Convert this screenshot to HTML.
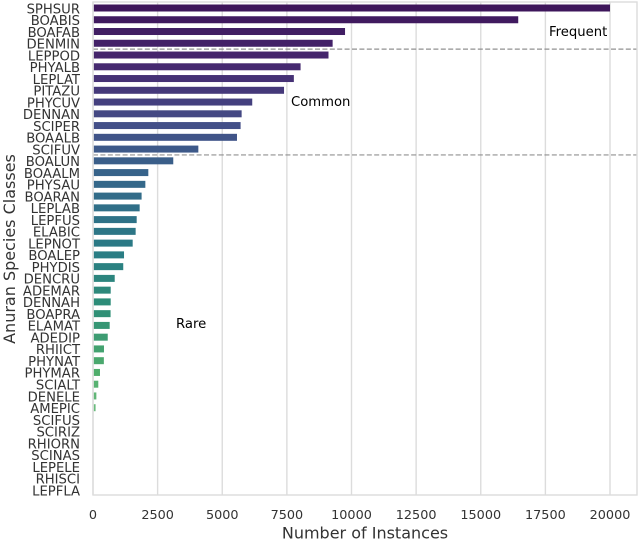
<!DOCTYPE html>
<html>
<head>
<meta charset="utf-8">
<title>Anuran Species Classes</title>
<style>
html,body{margin:0;padding:0;background:#fff;width:640px;height:540px;overflow:hidden}
svg{display:block;filter:blur(0.3px)}
text{font-family:"DejaVu Sans","Liberation Sans",sans-serif;fill:#333}
</style>
</head>
<body>
<svg id="chart" width="640" height="540" viewBox="0 0 640 540" xmlns="http://www.w3.org/2000/svg">
  <g id="grid"></g>
  <g id="bars"></g>
  <g id="dividers"></g>
  <g id="spines"></g>
  <g id="ylabels"></g>
  <g id="xlabels"></g>
  <text x="0" y="0" transform="translate(15,249) rotate(-90)" text-anchor="middle" font-size="16">Anuran Species Classes</text>
  <text x="365" y="538.5" text-anchor="middle" font-size="16">Number of Instances</text>
  <text x="549" y="36" font-size="13.2" style="fill:#000">Frequent</text>
  <text x="291" y="106" font-size="13.2" style="fill:#000">Common</text>
  <text x="176" y="328" font-size="13.2" style="fill:#000">Rare</text>
</svg>
<script>
const categories = ["SPHSUR","BOABIS","BOAFAB","DENMIN","LEPPOD","PHYALB","LEPLAT","PITAZU","PHYCUV","DENNAN","SCIPER","BOAALB","SCIFUV","BOALUN","BOAALM","PHYSAU","BOARAN","LEPLAB","LEPFUS","ELABIC","LEPNOT","BOALEP","PHYDIS","DENCRU","ADEMAR","DENNAH","BOAPRA","ELAMAT","ADEDIP","RHIICT","PHYNAT","PHYMAR","SCIALT","DENELE","AMEPIC","SCIFUS","SCIRIZ","RHIORN","SCINAS","LEPELE","RHISCI","LEPFLA"];
const instances = [20000,16450,9750,9270,9110,8030,7770,7390,6160,5750,5710,5570,4075,3105,2140,2025,1880,1805,1690,1650,1535,1200,1170,840,685,685,680,645,570,425,420,270,205,130,100,12,8,6,5,4,3,2];
const xTicks = [0,2500,5000,7500,10000,12500,15000,17500,20000];
const dividerAfter = ["DENMIN","SCIFUV"];

const NS = "http://www.w3.org/2000/svg";
const plot = {left:93, right:637, top:2, bottom:495};
const xScale = v => plot.left + v * (610 - 93) / 20000;
const yScale = i => 8 + i * (490 - 8) / 41;
const ramp = [[61,20,89],[70,40,111],[67,79,136],[51,105,138],[42,123,133],[46,143,118],[80,174,108],[124,196,138],[174,220,184]];
function colorAt(t){
  const p = t * (ramp.length - 1), k = Math.min(Math.floor(p), ramp.length - 2), f = p - k;
  const c = ramp[k].map((a, j) => Math.round(a + (ramp[k + 1][j] - a) * f));
  return "rgb(" + c.join(",") + ")";
}
function make(tag, parent, attrs){
  const el = document.createElementNS(NS, tag);
  for (const key in attrs) el.setAttribute(key, attrs[key]);
  document.getElementById(parent).appendChild(el);
  return el;
}

xTicks.forEach(t => {
  const line = make("line", "grid", {x1:xScale(t), x2:xScale(t), y1:plot.top, y2:plot.bottom, stroke:"#dcdcdc", "stroke-width":1.4});
  
  
  const label = make("text", "xlabels", {x:xScale(t), y:519, "text-anchor":"middle", "font-size":12.8});
  
  
  label.textContent = t;
});

categories.forEach((name, i) => {
  const y = yScale(i);
  const color = colorAt((i + 0.5) / categories.length);
  const w = Math.max(xScale(instances[i]) - xScale(0), 0);
  const bar = make("rect", "bars", {x:xScale(0) + 0.8, y:y - 3.5, width:Math.max(w - 0.8, 0), height:7, fill:color});
  
  
  const label = make("text", "ylabels", {x:80, y:y + 5.3, "text-anchor":"end", "font-size":13.2});
  
  
  label.textContent = name;
});

dividerAfter.forEach(name => {
  const i = categories.indexOf(name);
  const y = (yScale(i) + yScale(i + 1)) / 2;
  const line = make("line", "dividers", {x1:plot.left, x2:plot.right, y1:y, y2:y, stroke:"#909090", "stroke-width":1.2, "stroke-dasharray":"5 2.4"});
  
  
});

const frame = make("rect", "spines", {x:plot.left, y:plot.top, width:plot.right - plot.left, height:plot.bottom - plot.top, fill:"none", stroke:"#dcdcdc", "stroke-width":1.4});


</script>
</body>
</html>
